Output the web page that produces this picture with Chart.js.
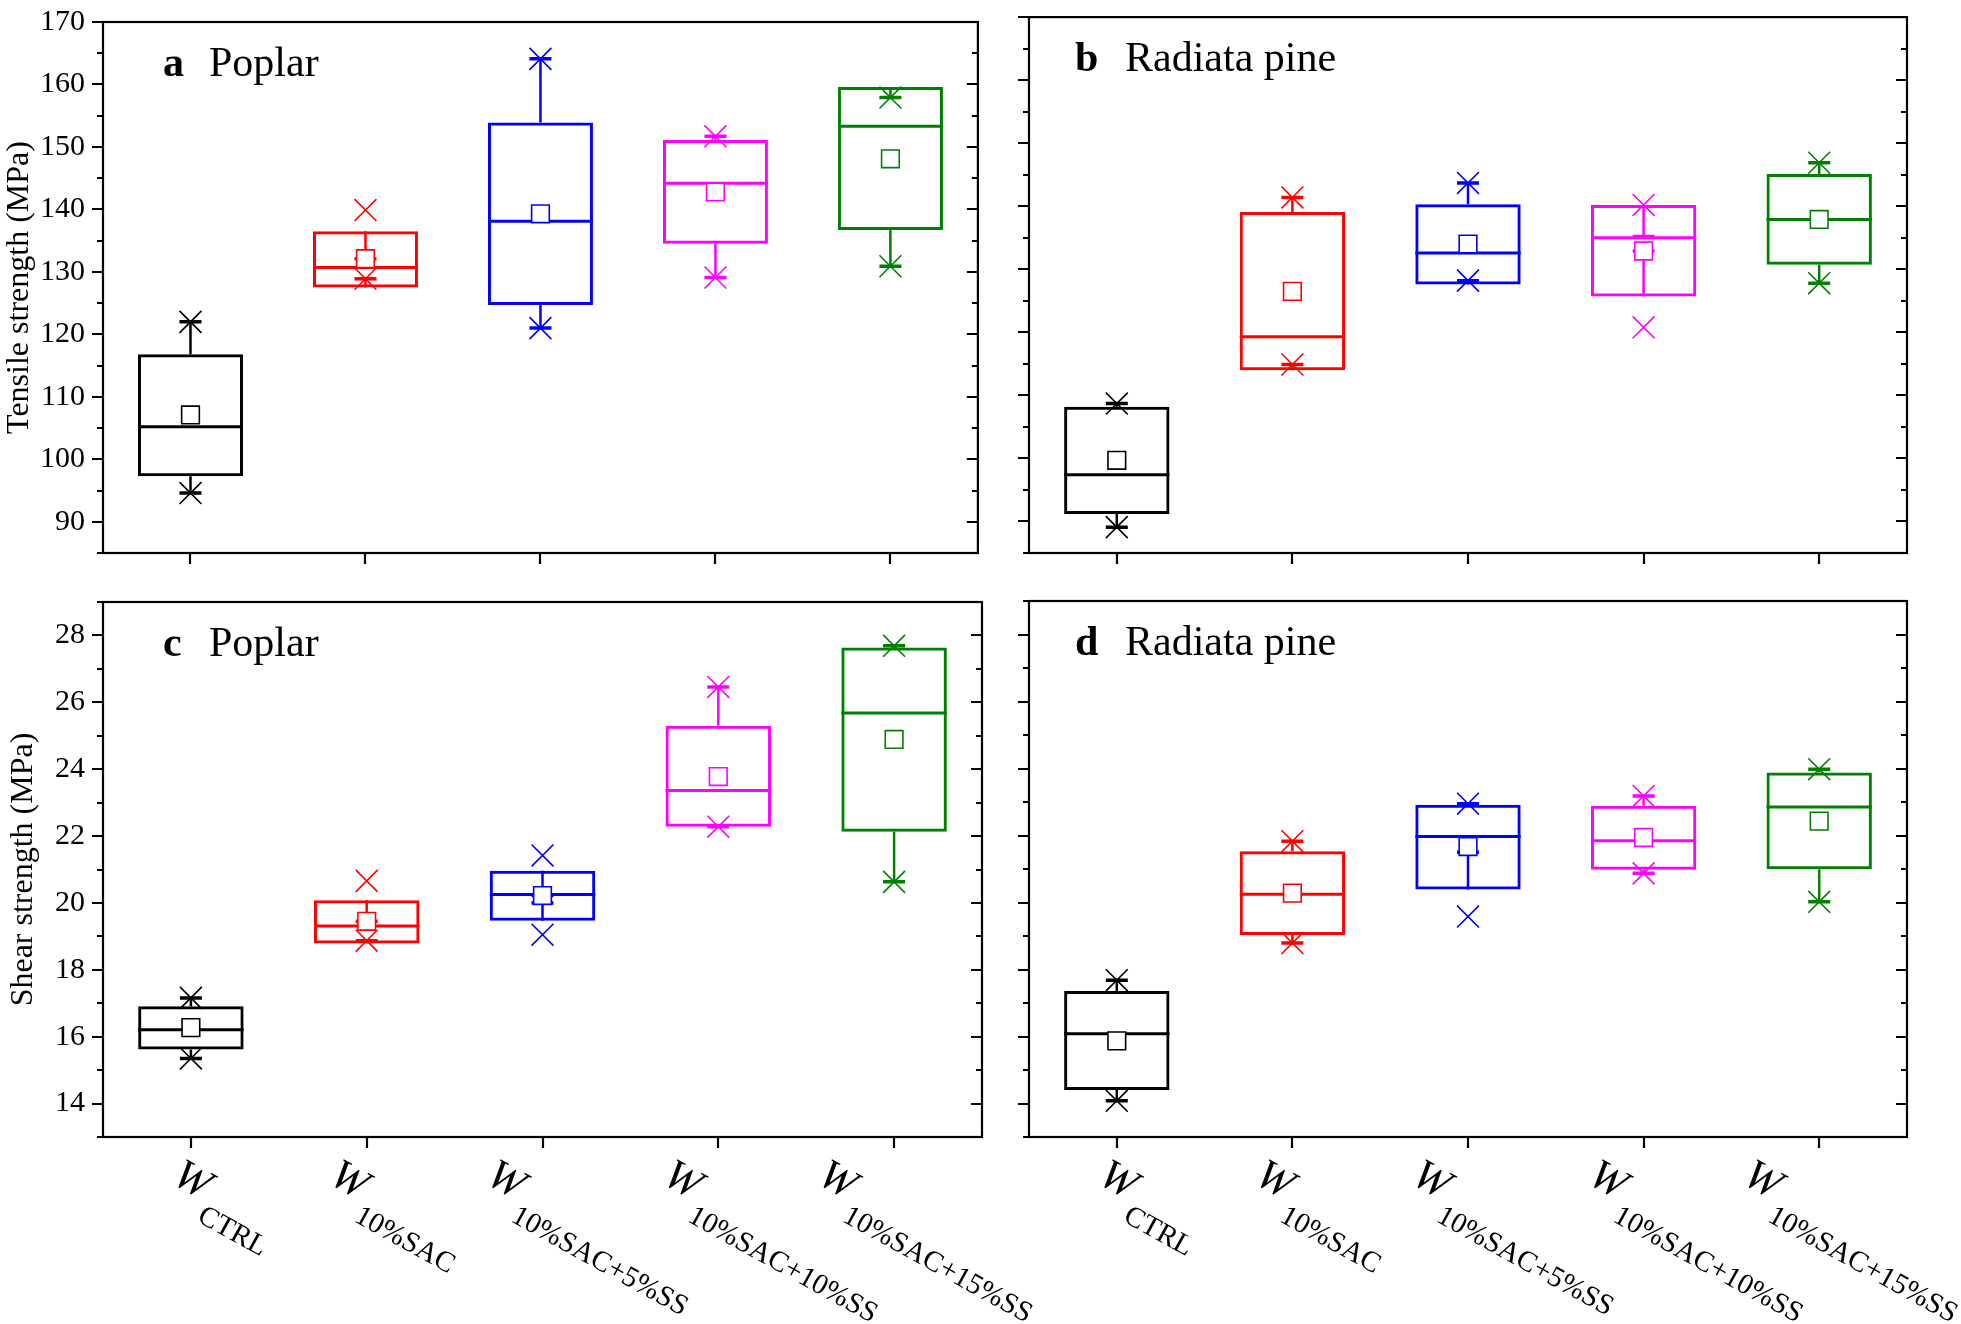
<!DOCTYPE html>
<html>
<head>
<meta charset="utf-8">
<title>Tensile and shear strength box plots</title>
<script src="https://cdn.jsdelivr.net/npm/chart.js@4.4.1/dist/chart.umd.min.js"></script>
<style>
  html, body { margin: 0; padding: 0; background: #fff; }
  #wrap { position: relative; width: 1961px; height: 1324px; background: #fff; overflow: hidden; }
  #wrap canvas { position: absolute; }
</style>
</head>
<body>
<div id="wrap">
  <canvas id="panelA"></canvas>
  <canvas id="panelB"></canvas>
  <canvas id="panelC"></canvas>
  <canvas id="panelD"></canvas>
</div>
<script>
// ---- data -------------------------------------------------------------
const categories = ['CTRL', '10%SAC', '10%SAC+5%SS', '10%SAC+10%SS', '10%SAC+15%SS'];
const boxColors = ['#000000', '#ff0000', '#0000ff', '#ff00ff', '#008000'];

// a - tensile strength, poplar (MPa)
const tensilePoplarQ1     = [97.3, 127.5, 124.7, 134.5, 136.7];
const tensilePoplarMedian = [105.2, 130.7, 138.1, 144.2, 153.3];
const tensilePoplarQ3     = [116.8, 136.5, 153.9, 151.1, 159.6];
const tensilePoplarMean   = [107.1, 132.1, 139.3, 142.8, 148.1];
const tensilePoplarWLow   = [94.6, 128.9, 121.0, 129.1, 130.9];
const tensilePoplarWHigh  = [122.0, 132.1, 164.1, 151.7, 157.9];
const tensilePoplarMin    = [94.6, 128.9, 121.0, 129.1, 130.9];
const tensilePoplarMax    = [122.0, 139.9, 164.1, 151.7, 157.9];

// b - tensile strength, radiata pine (MPa)
const tensilePineQ1     = [91.2, 114.0, 127.6, 125.7, 130.7];
const tensilePineMedian = [97.4, 119.3, 132.6, 135.0, 137.9];
const tensilePineQ3     = [108.2, 139.1, 140.3, 140.2, 145.1];
const tensilePineMean   = [99.7, 126.5, 134.0, 132.9, 137.9];
const tensilePineWLow   = [89.1, 114.9, 128.2, 132.9, 127.8];
const tensilePineWHigh  = [108.7, 141.4, 143.7, 135.2, 146.9];
const tensilePineMin    = [89.1, 114.9, 128.2, 120.8, 127.8];
const tensilePineMax    = [108.7, 141.4, 143.7, 140.2, 146.9];

// c - shear strength, poplar (MPa)
const shearPoplarQ1     = [15.62, 18.79, 19.47, 22.28, 22.13];
const shearPoplarMedian = [16.21, 19.31, 20.25, 23.36, 25.68];
const shearPoplarQ3     = [16.91, 20.08, 20.96, 25.30, 27.64];
const shearPoplarMean   = [16.27, 19.45, 20.22, 23.78, 24.89];
const shearPoplarWLow   = [15.35, 18.87, 20.00, 22.28, 20.63];
const shearPoplarWHigh  = [17.16, 19.45, 20.22, 26.46, 27.69];
const shearPoplarMin    = [15.35, 18.87, 19.05, 22.28, 20.63];
const shearPoplarMax    = [17.16, 20.66, 21.42, 26.46, 27.69];

// d - shear strength, radiata pine (MPa)
const shearPineQ1     = [14.40, 19.03, 20.39, 20.98, 20.99];
const shearPineMedian = [16.08, 20.25, 21.97, 21.84, 22.85];
const shearPineQ3     = [17.36, 21.53, 22.92, 22.89, 23.88];
const shearPineMean   = [15.87, 20.28, 21.67, 21.94, 22.43];
const shearPineWLow   = [14.08, 18.79, 21.50, 20.87, 20.02];
const shearPineWHigh  = [17.68, 21.83, 22.95, 23.18, 23.98];
const shearPineMin    = [14.08, 18.79, 19.58, 20.87, 20.02];
const shearPineMax    = [17.68, 21.83, 22.95, 23.18, 23.98];

// ---- layout -----------------------------------------------------------
const FONT = '"Liberation Serif", "Times New Roman", serif';
const xLabelShift = [-17, -36, -55, -54, -75];
const xLabelAngle = 29;

Chart.defaults.font.family = FONT;
Chart.defaults.color = '#000';

const panels = [
  {
    id: 'panelA', letter: 'a', name: 'Poplar', letterX: 60, nameX: 106,
    q1: tensilePoplarQ1, median: tensilePoplarMedian, q3: tensilePoplarQ3, mean: tensilePoplarMean,
    wLow: tensilePoplarWLow, wHigh: tensilePoplarWHigh, min: tensilePoplarMin, max: tensilePoplarMax,
    yMin: 85, yMax: 170, step: 5, major: 10,
    title: 'Tensile strength (MPa)', titlePad: 0, yLabels: true, xLabels: false,
    box: { left: 0, top: 0, width: 995, height: 580 },
    area: { left: 103, top: 16, right: 982, bottom: 553 }
  },
  {
    id: 'panelB', letter: 'b', name: 'Radiata pine', letterX: 46, nameX: 96,
    q1: tensilePineQ1, median: tensilePineMedian, q3: tensilePineQ3, mean: tensilePineMean,
    wLow: tensilePineWLow, wHigh: tensilePineWHigh, min: tensilePineMin, max: tensilePineMax,
    yMin: 85, yMax: 170, step: 5, major: 10,
    title: '', titlePad: 0, yLabels: false, xLabels: false,
    box: { left: 995, top: 0, width: 966, height: 580 },
    area: { left: 1029, top: 16, right: 1907, bottom: 553 }
  },
  {
    id: 'panelC', letter: 'c', name: 'Poplar', letterX: 60, nameX: 106,
    q1: shearPoplarQ1, median: shearPoplarMedian, q3: shearPoplarQ3, mean: shearPoplarMean,
    wLow: shearPoplarWLow, wHigh: shearPoplarWHigh, min: shearPoplarMin, max: shearPoplarMax,
    yMin: 13, yMax: 29, step: 1, major: 2,
    title: 'Shear strength (MPa)', titlePad: 4, yLabels: true, xLabels: true,
    box: { left: 0, top: 580, width: 1060, height: 744 },
    area: { left: 103, top: 601, right: 982, bottom: 1137 }
  },
  {
    id: 'panelD', letter: 'd', name: 'Radiata pine', letterX: 46, nameX: 96,
    q1: shearPineQ1, median: shearPineMedian, q3: shearPineQ3, mean: shearPineMean,
    wLow: shearPineWLow, wHigh: shearPineWHigh, min: shearPineMin, max: shearPineMax,
    yMin: 13, yMax: 29, step: 1, major: 2,
    title: '', titlePad: 0, yLabels: false, xLabels: true,
    box: { left: 995, top: 580, width: 966, height: 744 },
    area: { left: 1029, top: 601, right: 1907, bottom: 1137 }
  }
];

/**
 * Whiskers, caps, medians, frame, ticks and text for one panel
 */
function boxPlotPlugin(p) {
  return {
    id: 'boxPlot_' + p.id,
    beforeDatasetsDraw(chart) {
      const ctx = chart.ctx;
      const ys = chart.scales.y;
      const bars = chart.getDatasetMeta(0).data;
      ctx.save();
      ctx.lineCap = 'butt';
      bars.forEach((bar, i) => {
        const cx = bar.x;
        const half = bar.width / 2;
        const yQ1 = ys.getPixelForValue(p.q1[i]);
        const yQ3 = ys.getPixelForValue(p.q3[i]);
        const yLo = ys.getPixelForValue(p.wLow[i]);
        const yHi = ys.getPixelForValue(p.wHigh[i]);
        const yMed = ys.getPixelForValue(p.median[i]);
        ctx.strokeStyle = boxColors[i];

        // whisker lines
        ctx.lineWidth = 2.5;
        ctx.beginPath();
        ctx.moveTo(cx, yQ1); ctx.lineTo(cx, yLo);
        ctx.moveTo(cx, yQ3); ctx.lineTo(cx, yHi);
        ctx.stroke();

        // caps
        ctx.lineWidth = 3.5;
        ctx.beginPath();
        ctx.moveTo(cx - 11, yLo); ctx.lineTo(cx + 11, yLo);
        ctx.moveTo(cx - 11, yHi); ctx.lineTo(cx + 11, yHi);
        ctx.stroke();

        // median
        ctx.lineWidth = 3;
        ctx.beginPath();
        ctx.moveTo(cx - half, yMed); ctx.lineTo(cx + half, yMed);
        ctx.stroke();
      });
      ctx.restore();
    },
    afterDraw(chart) {
      const ctx = chart.ctx;
      const { left, right, top, bottom } = chart.chartArea;
      const ys = chart.scales.y;
      const xs = chart.scales.x;
      ctx.save();
      ctx.strokeStyle = '#000';
      ctx.lineWidth = 2.2;
      ctx.strokeRect(left, top, right - left, bottom - top);

      // y ticks: outward on the left, inward on the right
      ctx.beginPath();
      ys.ticks.forEach(t => {
        const y = Math.round(ys.getPixelForValue(t.value));
        const len = t.value % p.major === 0 ? 11 : 6;
        ctx.moveTo(left - len, y); ctx.lineTo(left, y);
        ctx.moveTo(right - len, y); ctx.lineTo(right, y);
      });
      // x ticks at category centres
      categories.forEach((c, i) => {
        const x = Math.round(xs.getPixelForValue(i));
        ctx.moveTo(x, bottom); ctx.lineTo(x, bottom + 11);
      });
      ctx.stroke();

      // panel letter and wood species
      ctx.fillStyle = '#000';
      ctx.textAlign = 'left';
      ctx.textBaseline = 'alphabetic';
      ctx.font = 'bold 42px ' + FONT;
      ctx.fillText(p.letter, left + p.letterX, top + 53.5);
      ctx.font = '42px ' + FONT;
      ctx.fillText(p.name, left + p.nameX, top + 53.5);

      // rotated W-subscript category labels
      if (p.xLabels) {
        const ang = xLabelAngle * Math.PI / 180;
        categories.forEach((sub, i) => {
          const x = xs.getPixelForValue(i);
          ctx.save();
          ctx.translate(x + xLabelShift[i] + 12, bottom + 22);
          ctx.rotate(ang);
          ctx.font = 'italic 43px ' + FONT;
          ctx.fillText('W', -2, 28);
          const w = ctx.measureText('W').width;
          ctx.font = '29px ' + FONT;
          ctx.fillText(sub, w + 3, 49);
          ctx.restore();
        });
      }
      ctx.restore();
    }
  };
}

function makePanel(p) {
  const canvas = document.getElementById(p.id);
  canvas.width = p.box.width;
  canvas.height = p.box.height;
  canvas.style.left = p.box.left + 'px';
  canvas.style.top = p.box.top + 'px';

  const yWidth = p.area.left - p.box.left;
  const xHeight = p.box.top + p.box.height - p.area.bottom;

  return new Chart(canvas, {
    type: 'bar',
    data: {
      labels: categories,
      datasets: [
        {
          type: 'bar',
          data: p.q1.map((v, i) => [v, p.q3[i]]),
          backgroundColor: 'rgba(0,0,0,0)',
          borderColor: boxColors,
          borderWidth: 3,
          borderSkipped: false,
          barPercentage: 0.6,
          categoryPercentage: 1,
          order: 3
        },
        {
          type: 'line',
          data: p.mean,
          showLine: false,
          pointStyle: 'rect',
          pointRadius: 12.5,
          pointBorderWidth: 1.6,
          pointBorderColor: boxColors,
          pointBackgroundColor: '#ffffff',
          order: 2
        },
        {
          type: 'line',
          data: p.min,
          showLine: false,
          pointStyle: 'crossRot',
          pointRadius: 15.5,
          pointBorderWidth: 1.6,
          pointBorderColor: boxColors,
          order: 1
        },
        {
          type: 'line',
          data: p.max,
          showLine: false,
          pointStyle: 'crossRot',
          pointRadius: 15.5,
          pointBorderWidth: 1.6,
          pointBorderColor: boxColors,
          order: 1
        }
      ]
    },
    options: {
      responsive: false,
      animation: false,
      events: [],
      layout: {
        padding: {
          left: 0,
          top: p.area.top - p.box.top,
          right: p.box.left + p.box.width - p.area.right,
          bottom: 0
        }
      },
      plugins: {
        legend: { display: false },
        tooltip: { enabled: false }
      },
      scales: {
        x: {
          type: 'category',
          offset: true,
          ticks: { display: false },
          grid: { display: false },
          border: { display: false },
          afterFit: s => { s.height = xHeight; }
        },
        y: {
          min: p.yMin,
          max: p.yMax,
          ticks: {
            display: p.yLabels,
            stepSize: p.step,
            autoSkip: false,
            padding: 7,
            color: '#000',
            font: { size: 30, lineHeight: 1 },
            callback: v => (v % p.major === 0 ? v : '')
          },
          grid: {
            display: true,
            drawOnChartArea: false,
            drawTicks: true,
            tickLength: 11,
            tickColor: 'rgba(0,0,0,0)'
          },
          border: { display: false },
          title: {
            display: !!p.title,
            text: p.title,
            color: '#000',
            font: { size: 32, lineHeight: 1.2 },
            padding: { top: p.titlePad, bottom: 0 }
          },
          afterFit: s => { s.width = yWidth; }
        }
      }
    },
    plugins: [boxPlotPlugin(p)]
  });
}

panels.forEach(makePanel);
</script>
</body>
</html>
